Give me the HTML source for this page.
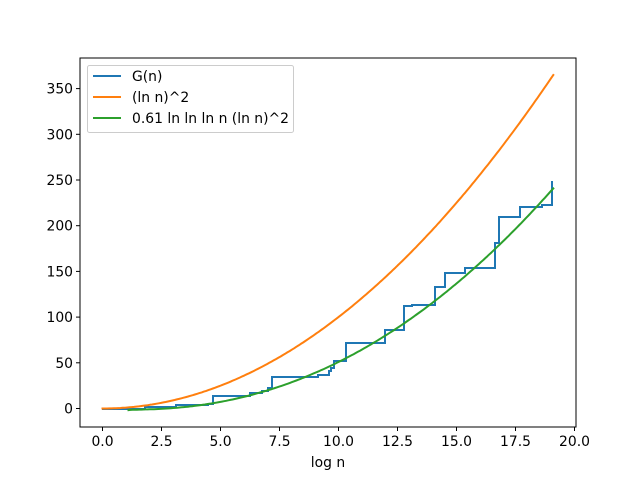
<!DOCTYPE html>
<html><head><meta charset="utf-8"><style>
body{margin:0;background:#fff}
svg{display:block;font-family:"DejaVu Sans","Liberation Sans",sans-serif}
</style></head><body>
<svg id="s" width="640" height="480" viewBox="0 0 640 480">
<rect width="640" height="480" fill="#fff"/>
<path d="M102,409 H145 V407 H176 V405 H208 V404 H213 V396 H250 V393 H262 V391 H268 V388 H272 V377 H318 V375 H329 V371 H331 V368 H334 V361 H346 V343 H385 V330 H404 V306 H412 V305 H435 V287 H445 V273 H465 V268 H495 V243 H499 V217 H520 V207 H542 V205 H552 V181" fill="none" stroke="#1f77b4" stroke-width="2"/>
<g id="plot" fill="none" stroke-width="2" stroke-linejoin="round" stroke-linecap="square"></g>
<rect x="80" y="58" width="496" height="369" fill="none" stroke="#000" stroke-width="1"/>
<g stroke="#000" stroke-width="1">
<line x1="102.5" y1="427" x2="102.5" y2="431"/><line x1="220.5" y1="427" x2="220.5" y2="431"/><line x1="338.5" y1="427" x2="338.5" y2="431"/><line x1="456.5" y1="427" x2="456.5" y2="431"/><line x1="574.5" y1="427" x2="574.5" y2="431"/>
<line x1="161.5" y1="427" x2="161.5" y2="431"/><line x1="279.5" y1="427" x2="279.5" y2="431"/><line x1="397.5" y1="427" x2="397.5" y2="431"/><line x1="515.5" y1="427" x2="515.5" y2="431"/>
<line x1="76" y1="408.5" x2="80" y2="408.5"/><line x1="76" y1="362.8" x2="80" y2="362.8"/><line x1="76" y1="317.1" x2="80" y2="317.1"/><line x1="76" y1="271.4" x2="80" y2="271.4"/><line x1="76" y1="225.7" x2="80" y2="225.7"/><line x1="76" y1="180" x2="80" y2="180"/><line x1="76" y1="134.3" x2="80" y2="134.3"/><line x1="76" y1="88.6" x2="80" y2="88.6"/>
</g>
<g font-size="13.9" fill="#000" text-anchor="middle">
<text x="102.5" y="446">0.0</text><text x="161.5" y="446">2.5</text><text x="220.5" y="446">5.0</text><text x="279.5" y="446">7.5</text><text x="338.5" y="446">10.0</text><text x="397.5" y="446">12.5</text><text x="456.5" y="446">15.0</text><text x="515.5" y="446">17.5</text><text x="574.5" y="446">20.0</text>
<text x="328" y="467">log n</text>
</g>
<g font-size="13.9" fill="#000" text-anchor="end">
<text x="73" y="413.5">0</text><text x="73" y="367.8">50</text><text x="73" y="322.1">100</text><text x="73" y="276.4">150</text><text x="73" y="230.7">200</text><text x="73" y="185">250</text><text x="73" y="139.3">300</text><text x="73" y="93.6">350</text>
</g>
<rect x="87.5" y="65.5" width="206" height="67" rx="2" fill="#fff" fill-opacity="0.8" stroke="#ccc"/>
<line x1="93" y1="76" x2="121" y2="76" stroke="#1f77b4" stroke-width="2"/>
<line x1="93" y1="97" x2="121" y2="97" stroke="#ff7f0e" stroke-width="2"/>
<line x1="93" y1="118" x2="121" y2="118" stroke="#2ca02c" stroke-width="2"/>
<g font-size="13.9" fill="#000">
<text x="132" y="81">G(n)</text><text x="132" y="102">(ln n)^2</text><text x="132" y="123">0.61 ln ln ln n (ln n)^2</text>
</g>
</svg>
<script>
(function(){
var g=document.getElementById('plot');
function X(x){return 102.5+x*23.6;}
function Y(v){return 408.5-v*320/350;}
var o='',gr='';
for(var i=0;i<=200;i++){var x=19.1*i/200;o+=(i?'L':'M')+X(x).toFixed(1)+','+Y(x*x).toFixed(1);}
for(var i=0;i<=200;i++){var x=1.1+(19.1-1.1)*i/200;var v=0.61*Math.log(Math.log(x))*x*x;gr+=(i?'L':'M')+X(x).toFixed(1)+','+Y(v).toFixed(1);}
g.innerHTML='<path d="'+o+'" stroke="#ff7f0e"/><path d="'+gr+'" stroke="#2ca02c"/>';
})();
</script>
</body></html>
